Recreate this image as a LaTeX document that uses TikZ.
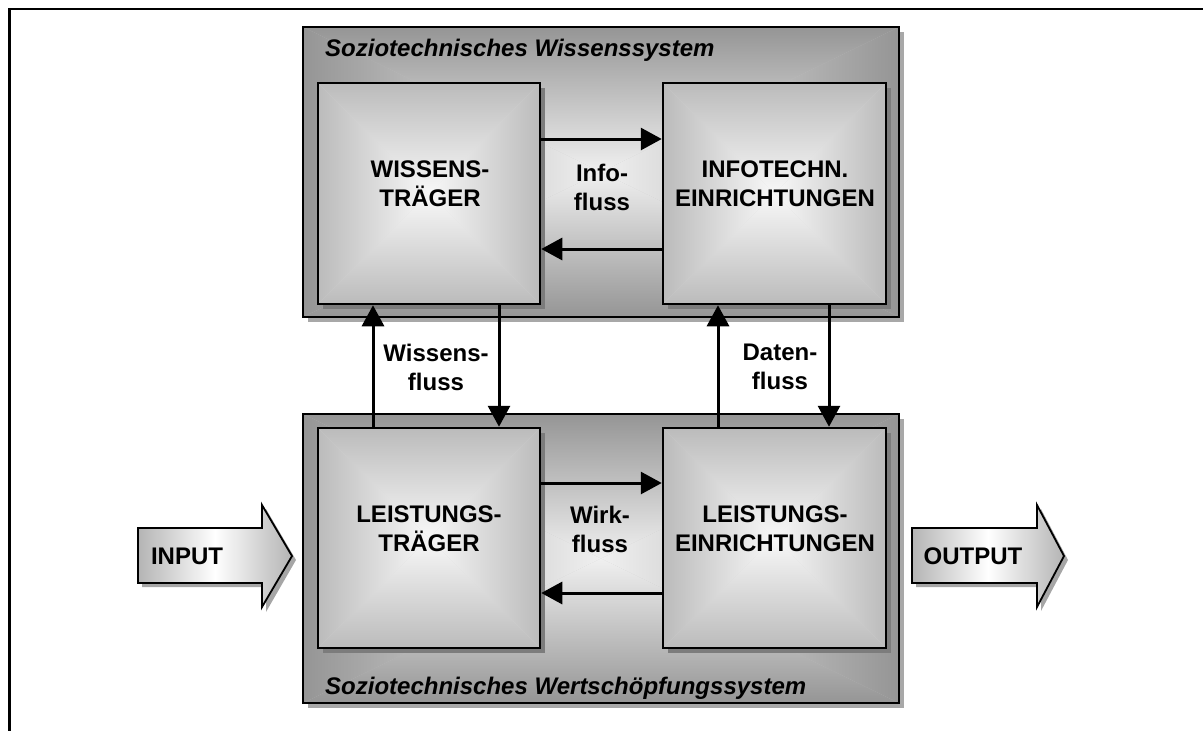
\documentclass[tikz,border=0pt]{standalone}
\usepackage{fontspec}
\setmainfont{Liberation Sans}
\usetikzlibrary{arrows.meta,calc}
\definecolor{contedge}{HTML}{959595}
\definecolor{contmid}{HTML}{F0F0F0}
\definecolor{boxedge}{HTML}{BBBBBB}
\definecolor{boxmid}{HTML}{F8F8F8}
\definecolor{shadowA}{HTML}{A8A8A8}
\definecolor{shadowB}{HTML}{7C7C7C}
\definecolor{arredge}{HTML}{B4B4B4}
% pyramid (rectangular) gradient: x1 y1 x2 y2 edge centre
\newcommand\pyrfill[6]{%
  \pgfmathsetmacro\pcx{(#1+#3)/2}%
  \pgfmathsetmacro\pcy{(#2+#4)/2}%
  \fill[#6!50!#5] (#1,#2) rectangle (#3,#4);
  \shade[top color=#5, bottom color=#6] (#1,#2) -- (#3,#2) -- (\pcx,\pcy) -- cycle;
  \shade[top color=#6, bottom color=#5] (#1,#4) -- (#3,#4) -- (\pcx,\pcy) -- cycle;
  \shade[left color=#5, right color=#6] (#1,#2) -- (#1,#4) -- (\pcx,\pcy) -- cycle;
  \shade[left color=#6, right color=#5] (#3,#2) -- (#3,#4) -- (\pcx,\pcy) -- cycle;
}
\begin{document}
\begin{tikzpicture}[x=1pt,y=-1pt,
  cont/.style={draw=black, line width=2.5pt, inner sep=0pt, minimum width=596pt, minimum height=290pt},
  unit/.style={draw=black, line width=2.5pt, inner sep=0pt, minimum width=222pt, minimum height=221pt},
  lbl/.style={font=\fontsize{24}{29}\selectfont\bfseries, align=center, inner sep=0pt},
  ttl/.style={font=\fontsize{24}{29}\selectfont\bfseries\itshape, anchor=west, inner sep=0pt},
  arr/.style={line width=3pt, -{Triangle[length=21pt,width=22pt]}},
  blk/.style={draw=black, line width=1.8pt, line join=miter}]
\useasboundingbox (0,0) rectangle (1203,731);
% outer frame
\draw[line width=2.5pt] (9.5,731) -- (9.5,9) -- (1203,9);

% containers
\fill[shadowA] (308,32) rectangle (904,322);
\fill[shadowA] (308,419) rectangle (904,708);
\pyrfill{303}{27}{899}{317}{contedge}{contmid}
\pyrfill{303}{414}{899}{703}{contedge}{contmid}
\node[cont] (TC) at (601,172) {};
\node[cont, minimum height=289pt] (BC) at (601,558.5) {};
\node[ttl] (TCt) at (325,50) {Soziotechnisches Wissenssystem};
\node[ttl] (BCt) at (325,688) {Soziotechnisches Wertschöpfungssystem};

% inner units
\fill[shadowB] (323,88) rectangle (545,309);
\fill[shadowB] (668,88) rectangle (891,309);
\fill[shadowB] (323,433) rectangle (545,653);
\fill[shadowB] (668,433) rectangle (891,653);
\pyrfill{318}{83}{540}{304}{boxedge}{boxmid}
\pyrfill{663}{83}{886}{304}{boxedge}{boxmid}
\pyrfill{318}{428}{540}{648}{boxedge}{boxmid}
\pyrfill{663}{428}{886}{648}{boxedge}{boxmid}
\node[unit] (WT) at (429,193.5) {};
\node[unit, minimum width=223pt] (IE) at (774.5,193.5) {};
\node[unit, minimum height=220pt] (LT) at (429,538) {};
\node[unit, minimum width=223pt, minimum height=220pt] (LE) at (774.5,538) {};

\node[lbl] (WTl) at (430,184) {WISSENS-\\TRÄGER};
\node[lbl] (IEl) at (775,184) {INFOTECHN.\\EINRICHTUNGEN};
\node[lbl] (LTl) at (429,529) {LEISTUNGS-\\TRÄGER};
\node[lbl] (LEl) at (775,529) {LEISTUNGS-\\EINRICHTUNGEN};

% flow labels
\node[lbl] (info) at (602,187) {Info-\\fluss};
\node[lbl] (wirk) at (600,529) {Wirk-\\fluss};
\node[lbl] (wiss) at (436,367) {Wissens-\\fluss};
\node[lbl] (daten) at (780,367) {Daten-\\fluss};

% connectors
\draw[arr] ([yshift=54.5pt]WT.east) -- ([yshift=54.5pt]IE.west);
\draw[arr] ([yshift=-55.5pt]IE.west) -- ([yshift=-55.5pt]WT.east);
\draw[arr] ([yshift=55pt]LT.east) -- ([yshift=55pt]LE.west);
\draw[arr] ([yshift=-55pt]LE.west) -- ([yshift=-55pt]LT.east);
\draw[arr] ([xshift=-56pt]LT.north) -- ([xshift=-56pt]WT.south);
\draw[arr] ([xshift=70pt]WT.south) -- ([xshift=70pt]LT.north);
\draw[arr] ([xshift=-56.5pt]LE.north) -- ([xshift=-56.5pt]IE.south);
\draw[arr] ([xshift=54.5pt]IE.south) -- ([xshift=54.5pt]LE.north);

% INPUT block arrow
\fill[gray!70] (142,532) -- (266,532) -- (266,509) -- (296,560) -- (266,612) -- (266,587) -- (142,587) -- cycle;
\shade[left color=arredge, right color=arredge, middle color=white]
  (138,528) -- (262,528) -- (262,505) -- (292,556) -- (262,607) -- (262,583) -- (138,583) -- cycle;
\draw[blk] (138,528) -- (262,528) -- (262,505) -- (292,556) -- (262,607) -- (262,583) -- (138,583) -- cycle;
\node[lbl] (inp) at (187,556) {INPUT};

% OUTPUT block arrow
\fill[gray!70] (916,532) -- (1041,532) -- (1041,509) -- (1068,560) -- (1041,611) -- (1041,587) -- (916,587) -- cycle;
\shade[left color=arredge, right color=arredge, middle color=white]
  (912,528) -- (1037,528) -- (1037,505) -- (1064,556) -- (1037,607) -- (1037,583) -- (912,583) -- cycle;
\draw[blk] (912,528) -- (1037,528) -- (1037,505) -- (1064,556) -- (1037,607) -- (1037,583) -- (912,583) -- cycle;
\node[lbl] (outp) at (973,556) {OUTPUT};
\end{tikzpicture}
\end{document}
